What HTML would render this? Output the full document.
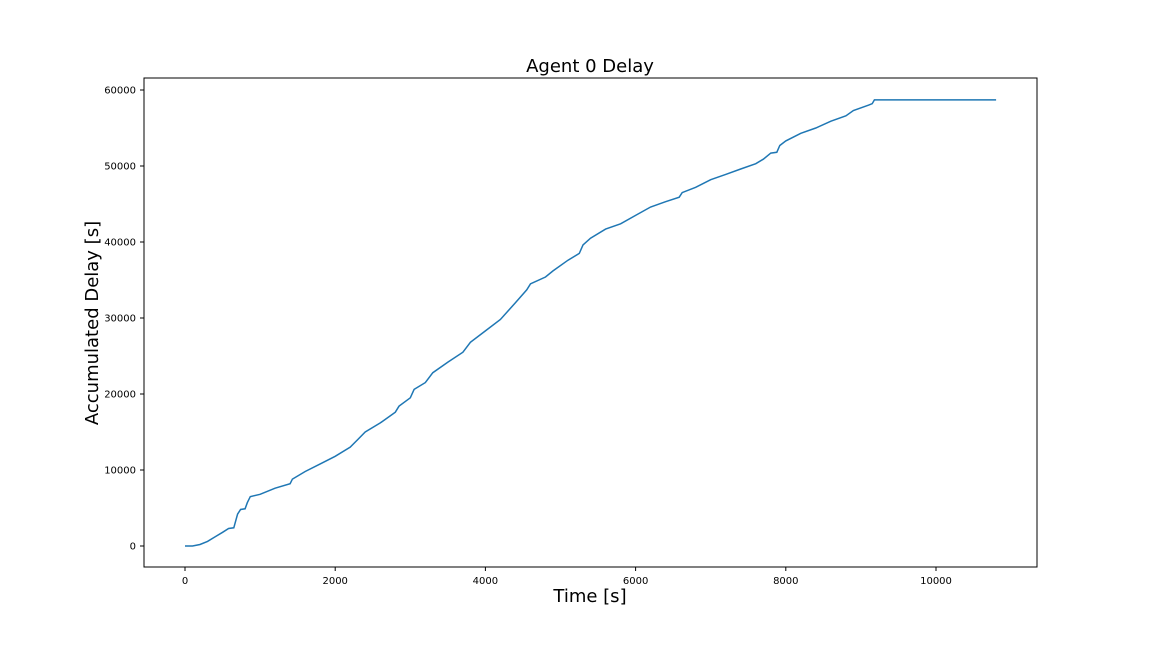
<!DOCTYPE html>
<html><head><meta charset="utf-8"><style>
html,body{margin:0;padding:0;background:#fff;}
svg text{font-family:"DejaVu Sans","Liberation Sans",sans-serif;}
</style></head><body>
<svg id="chart" width="1152" height="648">
<text x="590" y="72" font-size="18" text-anchor="middle">Agent 0 Delay</text>
<g id="xt"></g><g id="yt"></g>
<path id="line" fill="none" stroke="#1f77b4" stroke-width="1.5"></path>
<rect x="144" y="78" width="893" height="489" fill="none" stroke="#000" stroke-width="1"/>
<text x="590" y="602" font-size="18" text-anchor="middle">Time [s]</text>
<text transform="translate(98,323) rotate(-90)" font-size="18" text-anchor="middle">Accumulated Delay [s]</text>
</svg>
<script>
const times=[0,100,200,300,400,500,580,650,680,700,740,800,830,870,1000,1200,1400,1430,1600,1800,2000,2200,2300,2400,2600,2800,2850,3000,3050,3200,3300,3500,3700,3800,4000,4200,4400,4550,4600,4800,4900,5100,5250,5300,5400,5600,5800,6000,6200,6400,6580,6620,6800,7000,7200,7400,7600,7700,7800,7880,7920,8000,8200,8400,8600,8800,8900,9100,9150,9180,10800];
const delays=[0,0,200,600,1200,1800,2300,2400,3500,4200,4800,4900,5700,6500,6800,7600,8200,8800,9800,10800,11800,13000,14000,15000,16200,17600,18400,19500,20600,21500,22800,24200,25500,26800,28300,29800,32000,33700,34500,35400,36200,37600,38500,39600,40500,41700,42400,43500,44600,45300,45900,46500,47200,48200,48900,49600,50300,50900,51700,51800,52700,53300,54300,55000,55900,56600,57300,58000,58200,58700,58700];
const xTicks=[0,2000,4000,6000,8000,10000];
const yTicks=[0,10000,20000,30000,40000,50000,60000];
const ns='http://www.w3.org/2000/svg';
const X=v=>185+v*(150.2/2000);
const Y=v=>546-v*(76/10000);
let d='';
times.forEach((t,i)=>{d+=(i?'L':'M')+X(t).toFixed(1)+','+Y(delays[i]).toFixed(1);});
document.getElementById('line').setAttribute('d',d);
const xg=document.getElementById('xt'),yg=document.getElementById('yt');
xTicks.forEach(v=>{
 const l=document.createElementNS(ns,'line');
 l.setAttribute('x1',X(v));l.setAttribute('x2',X(v));l.setAttribute('y1',567);l.setAttribute('y2',571);l.setAttribute('stroke','#000');
 
 
 xg.appendChild(l);
 const t=document.createElementNS(ns,'text');
 t.setAttribute('x',X(v));t.setAttribute('y',584);t.setAttribute('font-size','10');t.setAttribute('text-anchor','middle');t.textContent=v;
 
 
 xg.appendChild(t);
});
yTicks.forEach(v=>{
 const l=document.createElementNS(ns,'line');
 l.setAttribute('x1',140);l.setAttribute('x2',144);l.setAttribute('y1',Y(v));l.setAttribute('y2',Y(v));l.setAttribute('stroke','#000');
 
 
 yg.appendChild(l);
 const t=document.createElementNS(ns,'text');
 t.setAttribute('x',136);t.setAttribute('y',Y(v)+3.5);t.setAttribute('font-size','10');t.setAttribute('text-anchor','end');t.textContent=v;
 
 
 yg.appendChild(t);
});
</script>
</body></html>
